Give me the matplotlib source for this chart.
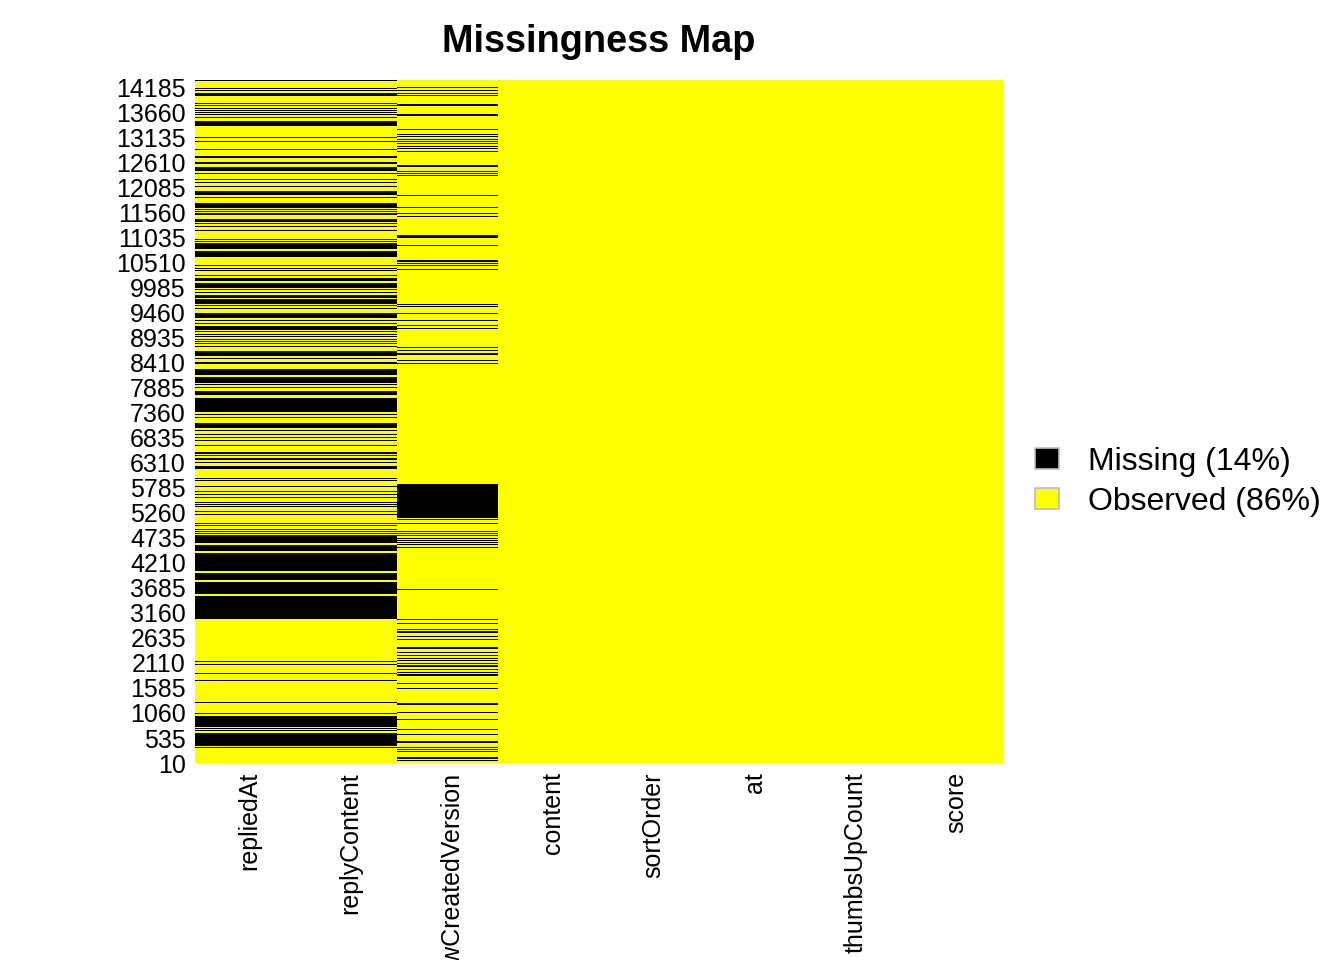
import numpy as np
import matplotlib
matplotlib.use("Agg")
import matplotlib.pyplot as plt
from matplotlib.patches import Patch
import matplotlib.transforms as mtransforms

plt.rcParams['font.family'] = ['Liberation Sans', 'DejaVu Sans']

# variables in the order shown on the x axis
columns = ["repliedAt", "replyContent", "reviewCreatedVersion", "content",
           "sortOrder", "at", "thumbsUpCount", "score"]
n_rows = 14350

# missing row runs (lo, hi)
# repliedAt and replyContent share the same pattern
reply_missing = [
    (14322, 14343), (14169, 14189), (14119, 14139), (14003, 14074), (13840, 13860),
    (13797, 13818), (13749, 13769), (13699, 13719), (13657, 13677), (13608, 13629),
    (13560, 13580), (13394, 13493), (13132, 13152), (13048, 13068), (12873, 12894),
    (12709, 12758), (12583, 12638), (12449, 12527), (12376, 12396), (12258, 12278),
    (12187, 12207), (12096, 12117), (11938, 12016), (11880, 11900), (11659, 11777),
    (11613, 11634), (11578, 11598), (11544, 11564), (11508, 11529), (11371, 11435),
    (11319, 11340), (11263, 11283), (11187, 11207), (10998, 11018), (10956, 10976),
    (10798, 10924), (10643, 10763), (10444, 10464), (10389, 10409), (10339, 10359),
    (10234, 10254), (10132, 10189), (9992, 10097), (9948, 9968), (9877, 9897),
    (9782, 9839), (9649, 9748), (9597, 9618), (9549, 9569), (9362, 9454),
    (9297, 9317), (9234, 9254), (9103, 9188), (9051, 9072), (9003, 9023),
    (8953, 8973), (8898, 8918), (8848, 8868), (8799, 8820), (8743, 8763),
    (8564, 8663), (8499, 8519), (8383, 8438), (8158, 8285), (7997, 8123),
    (7938, 7959), (7882, 7902), (7738, 7829), (7388, 7682), (7308, 7329),
    (7252, 7272), (7052, 7157), (6972, 6993), (6888, 6909), (6832, 6852),
    (6762, 6783), (6657, 6678), (6493, 6548), (6447, 6468), (6399, 6419),
    (6363, 6384), (6315, 6335), (6178, 6248), (5979, 5999), (5929, 5949),
    (5803, 5823), (5698, 5718), (5628, 5649), (5572, 5592), (5475, 5495),
    (5418, 5439), (5376, 5397), (5278, 5298), (5208, 5229), (5026, 5046),
    (4977, 4998), (4908, 4928), (4858, 4878), (4824, 4844), (4624, 4799),
    (4469, 4589), (4049, 4427), (3854, 4007), (3553, 3818), (3028, 3518),
    (2128, 2148), (2058, 2079), (1884, 1904), (1729, 1749), (1267, 1287),
    (1030, 1050), (760, 998), (714, 735), (679, 699), (374, 647), (322, 342),
]

# reviewCreatedVersion
version_missing = [
    (14190, 14210), (14112, 14133), (14056, 14076), (14007, 14028), (13808, 13850),
    (13591, 13633), (13293, 13314), (13203, 13223), (13146, 13167), (13098, 13118),
    (13048, 13068), (12999, 13020), (12943, 12963), (12894, 12915), (12846, 12866),
    (12533, 12575), (12426, 12446), (12376, 12396), (12334, 12354), (11907, 11928),
    (11662, 11682), (11544, 11564), (11481, 11501), (11029, 11099), (10857, 10878),
    (10538, 10574), (10494, 10514), (10444, 10464), (10353, 10374), (9633, 9653),
    (9591, 9611), (9429, 9450), (9282, 9303), (9192, 9212), (9114, 9135),
    (8722, 8742), (8652, 8673), (8572, 8614), (8449, 8469), (8394, 8414),
    (5162, 5870), (5118, 5138), (5019, 5040), (4858, 4878), (4809, 4830),
    (4767, 4788), (4719, 4739), (4669, 4689), (4627, 4647), (4578, 4599),
    (4522, 4542), (3633, 3654), (3003, 3024), (2919, 2940), (2808, 2828),
    (2734, 2776), (2653, 2673), (2583, 2604), (2411, 2453), (2317, 2337),
    (2247, 2268), (2199, 2219), (2142, 2163), (2094, 2114), (2033, 2075),
    (1953, 1974), (1905, 1925), (1838, 1880), (1666, 1686), (1569, 1589),
    (1254, 1274), (1218, 1239), (1065, 1085), (918, 938), (708, 728),
    (603, 623), (437, 479), (330, 350), (288, 308), (238, 258),
    (101, 143), (49, 69),
]

missing_by_column = {
    "repliedAt": reply_missing,
    "replyContent": reply_missing,
    "reviewCreatedVersion": version_missing,
}

row_ticks = [10, 535, 1060, 1585, 2110, 2635, 3160, 3685, 4210, 4735, 5260,
             5785, 6310, 6835, 7360, 7885, 8410, 8935, 9460, 9985, 10510,
             11035, 11560, 12085, 12610, 13135, 13660, 14185]

legend_labels = ["Missing (14%)", "Observed (86%)"]

miss_col = "black"
obs_col = "yellow"

fig = plt.figure(figsize=(13.44, 9.6), dpi=100)
ax = fig.add_axes([0.1451, 0.2047, 0.6012, 0.7120])
ax.set_facecolor(obs_col)

for i, col in enumerate(columns):
    runs = missing_by_column.get(col, [])
    if not runs:
        continue
    lo = np.array([r[0] for r in runs])
    hi = np.array([r[1] for r in runs])
    ax.bar(np.full(len(runs), i + 0.5), hi - lo, bottom=lo, width=1.0,
           color=miss_col, linewidth=0, antialiased=False)

ax.set_xlim(0, len(columns))
ax.set_ylim(0, n_rows)
for s in ax.spines.values():
    s.set_visible(False)

ax.set_xticks(np.arange(len(columns)) + 0.5)
ax.set_xticklabels(columns, rotation=90, va='top', ha='center', fontsize=18)
ax.set_yticks(row_ticks)
ax.set_yticklabels([str(v) for v in row_ticks], fontsize=18)
ax.tick_params(axis='x', length=0, pad=6.3)
ax.tick_params(axis='y', length=0, pad=6.5)

# nudge the rotated labels a little to the right, like the original
shift = mtransforms.ScaledTranslation(4 / 100, 0, fig.dpi_scale_trans)
for lab in ax.get_xticklabels():
    lab.set_transform(lab.get_transform() + shift)

fig.text(0.4457, 0.9455, "Missingness Map", ha='center', va='baseline',
         fontsize=27.3, fontweight='bold')

handles = [Patch(facecolor=miss_col, edgecolor='#bebebe', linewidth=1.2),
           Patch(facecolor=obs_col, edgecolor='#bebebe', linewidth=1.2)]
fig.legend(handles, legend_labels, loc='center left',
           bbox_to_anchor=(0.770, 0.498), bbox_transform=fig.transFigure,
           frameon=False, fontsize=23, handlelength=0.75, handleheight=0.63,
           handletextpad=0.9, labelspacing=0.3, borderpad=0, borderaxespad=0)

fig.savefig("out.png", dpi=100)
